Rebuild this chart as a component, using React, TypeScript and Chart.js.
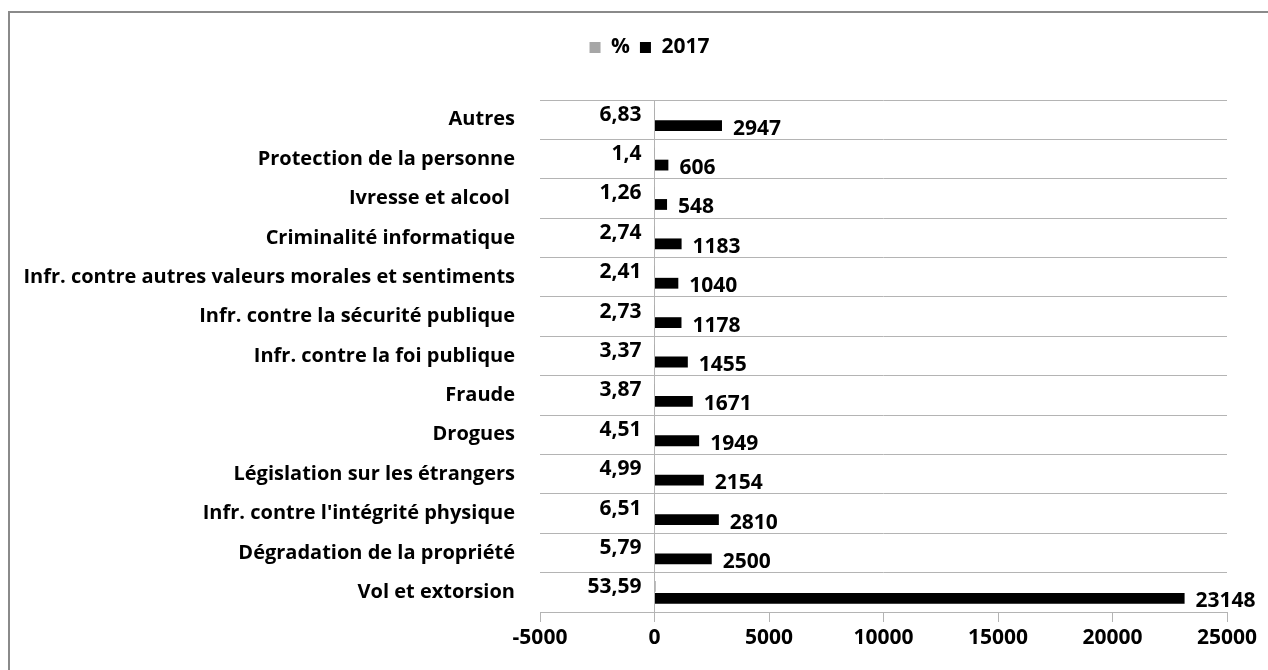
import React, { useEffect, useRef } from "react";
import { Chart, registerables } from "chart.js";

Chart.register(...registerables);

const categories = [
  "Autres",
  "Protection de la personne",
  "Ivresse et alcool ",
  "Criminalité informatique",
  "Infr. contre autres valeurs morales et sentiments",
  "Infr. contre la sécurité publique",
  "Infr. contre la foi publique",
  "Fraude",
  "Drogues",
  "Législation sur les étrangers",
  "Infr. contre l'intégrité physique",
  "Dégradation de la propriété",
  "Vol et extorsion",
];
const percentValues = [6.83, 1.4, 1.26, 2.74, 2.41, 2.73, 3.37, 3.87, 4.51, 4.99, 6.51, 5.79, 53.59];
const values2017 = [2947, 606, 548, 1183, 1040, 1178, 1455, 1671, 1949, 2154, 2810, 2500, 23148];
const xTickValues = [-5000, 0, 5000, 10000, 15000, 20000, 25000];
const seriesNames = ["%", "2017"];

const FONT = "'Open Sans', sans-serif";
const GRID = "#b4b4b4";

const frPlugin = {
  id: "frame",
  beforeDraw(chart: any) {
    const ctx = chart.ctx;
    ctx.save();
    ctx.fillStyle = "#ffffff";
    ctx.fillRect(0, 0, chart.width, chart.height);
    ctx.strokeStyle = "#8a8a8a";
    ctx.lineWidth = 2;
    ctx.strokeRect(9, 12, 1400, 800);
    ctx.restore();
  },
};

const legendSpacing = {
  id: "legendSpacing",
  beforeInit(chart: any) {
    const legend = chart.legend;
    if (!legend) return;
    const origFit = legend.fit;
    legend.fit = function () {
      origFit.call(this);
      this.height += 32;
    };
  },
  afterLayout(chart: any) {
    const legend = chart.legend;
    if (!legend) return;
    legend.left += 36;
    legend.right += 36;
  },
};

const valueLabels = {
  id: "valueLabels",
  afterDatasetsDraw(chart: any) {
    const ctx = chart.ctx;
    const xScale = chart.scales.x;
    const zero = xScale.getPixelForValue(0);
    ctx.save();
    ctx.font = `bold 21px ${FONT}`;
    ctx.fillStyle = "#000";
    ctx.textBaseline = "middle";
    chart.data.datasets.forEach((ds: any, di: number) => {
      const meta = chart.getDatasetMeta(di);
      meta.data.forEach((bar: any, i: number) => {
        const v = ds.data[i];
        const txt = String(v).replace(".", ",");
        if (di === 0) {
          ctx.textAlign = "right";
          ctx.fillText(txt, zero - 13, bar.y + 1);
        } else {
          ctx.textAlign = "left";
          ctx.fillText(txt, bar.x + 11, bar.y + 3);
        }
      });
    });
    ctx.restore();
  },
};

export default function App() {
  const ref = useRef<HTMLCanvasElement | null>(null);

  useEffect(() => {
    if (!ref.current) return;
    const chart = new Chart(ref.current, {
      type: "bar",
      data: {
        labels: categories,
        datasets: [
          {
            label: seriesNames[0],
            data: percentValues,
            backgroundColor: "#a6a6a6",
            borderWidth: 0,
            categoryPercentage: 0.61,
            barPercentage: 0.9,
          },
          {
            label: seriesNames[1],
            data: values2017,
            backgroundColor: "#000000",
            borderWidth: 0,
            categoryPercentage: 0.61,
            barPercentage: 0.9,
          },
        ],
      },
      options: {
        indexAxis: "y",
        responsive: false,
        animation: false,
        devicePixelRatio: 1,
        layout: { padding: { top: 27, left: 0, right: 41, bottom: 0 } },
        plugins: {
          legend: {
            display: true,
            position: "top",
            labels: {
              boxWidth: 11,
              boxHeight: 11,
              padding: 10,
              color: "#000",
              font: { family: FONT, size: 21, weight: "bold" },
            },
          },
          tooltip: { enabled: false },
        },
        scales: {
          x: {
            type: "linear",
            min: -5000,
            max: 25000,
            afterBuildTicks(scale: any) {
              scale.ticks = xTickValues.map((v) => ({ value: v }));
            },
            afterFit(scale: any) {
              scale.height = 58;
            },
            grid: {
              color: (c: any) => (c.tick && c.tick.value === 0 ? GRID : "rgba(0,0,0,0)"),
              tickColor: GRID,
              tickLength: 10,
              drawTicks: true,
              lineWidth: 1,
            },
            border: { display: true, color: GRID },
            ticks: {
              color: "#000",
              padding: 3,
              maxRotation: 0,
              font: { family: FONT, size: 21, weight: "bold" },
              callback: (v: any) => String(v),
            },
          },
          y: {
            type: "category",
            afterFit(scale: any) {
              scale.width = 540;
            },
            grid: {
              color: GRID,
              drawTicks: false,
              offset: true,
            },
            border: { display: false },
            ticks: {
              color: "#000",
              padding: 25,
              autoSkip: false,
              font: { family: FONT, size: 20, weight: "bold" },
            },
          },
        },
      },
      plugins: [frPlugin, legendSpacing, valueLabels],
    } as any);
    return () => chart.destroy();
  }, []);

  return (
    <div style={{ position: "absolute", left: 0, top: 0, width: 1268, height: 670, overflow: "hidden" }}>
      <canvas ref={ref} width={1268} height={670} style={{ display: "block" }} />
    </div>
  );
}
